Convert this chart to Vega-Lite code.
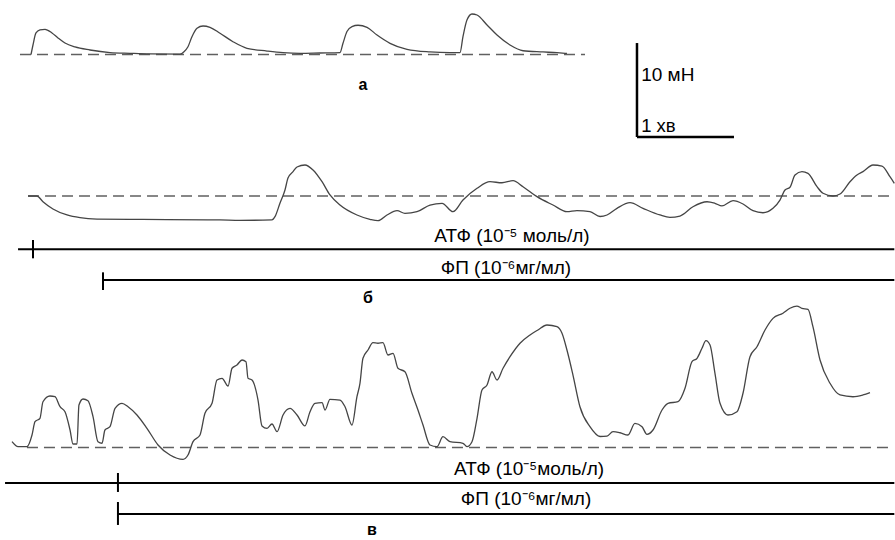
{
  "$schema": "https://vega.github.io/schema/vega-lite/v6.json",
  "autosize": {"type": "pad"},
  "padding": 0,
  "spacing": 0,
  "bounds": "flush",
  "background": "white",
  "config": {
    "view": {"stroke": null},
    "axis": {"disable": true},
    "font": "Liberation Sans",
    "text": {"font": "Liberation Sans"}
  },
  "datasets": {
    "a": [
      {"t": 0.320, "f": 0}, {"t": 0.340, "f": 1.01}, {"t": 0.371, "f": 2.29}, {"t": 0.412, "f": 2.61},
      {"t": 0.464, "f": 2.68}, {"t": 0.536, "f": 2.29}, {"t": 0.598, "f": 1.76}, {"t": 0.670, "f": 1.22},
      {"t": 0.773, "f": 0.80}, {"t": 0.928, "f": 0.48}, {"t": 1.134, "f": 0.21}, {"t": 1.340, "f": 0.13},
      {"t": 1.546, "f": 0.07}, {"t": 1.856, "f": 0.05}, {"t": 1.897, "f": 0.30}, {"t": 1.938, "f": 0.83},
      {"t": 1.979, "f": 1.89}, {"t": 2.031, "f": 2.79}, {"t": 2.093, "f": 3.03}, {"t": 2.165, "f": 2.89},
      {"t": 2.268, "f": 2.26}, {"t": 2.402, "f": 1.36}, {"t": 2.546, "f": 0.66}, {"t": 2.753, "f": 0.37},
      {"t": 2.918, "f": 0.19}, {"t": 3.093, "f": 0.11}, {"t": 3.299, "f": 0.16}, {"t": 3.505, "f": 0.21},
      {"t": 3.536, "f": 1.19}, {"t": 3.577, "f": 2.44}, {"t": 3.629, "f": 2.97}, {"t": 3.691, "f": 3.11},
      {"t": 3.784, "f": 2.89}, {"t": 3.887, "f": 2.07}, {"t": 4.021, "f": 1.19}, {"t": 4.196, "f": 0.55},
      {"t": 4.433, "f": 0.27}, {"t": 4.639, "f": 0.19}, {"t": 4.742, "f": 0.19}, {"t": 4.773, "f": 1.89},
      {"t": 4.814, "f": 3.67}, {"t": 4.866, "f": 4.31}, {"t": 4.918, "f": 4.20}, {"t": 5.021, "f": 3.14},
      {"t": 5.124, "f": 2.07}, {"t": 5.258, "f": 1.01}, {"t": 5.392, "f": 0.40}, {"t": 5.598, "f": 0.27},
      {"t": 5.742, "f": 0.19}, {"t": 5.845, "f": 0.11}
    ],
    "b": [
      {"t": 0.289, "f": 0}, {"t": 0.381, "f": 0}, {"t": 0.443, "f": -0.61}, {"t": 0.546, "f": -1.38},
      {"t": 0.691, "f": -2.02}, {"t": 0.825, "f": -2.31}, {"t": 1.000, "f": -2.45}, {"t": 1.371, "f": -2.48},
      {"t": 1.722, "f": -2.52}, {"t": 2.268, "f": -2.55}, {"t": 2.474, "f": -2.59}, {"t": 2.804, "f": -2.55},
      {"t": 2.835, "f": -2.20}, {"t": 2.887, "f": -0.74}, {"t": 2.938, "f": 0.64}, {"t": 2.969, "f": 1.91},
      {"t": 3.021, "f": 2.59}, {"t": 3.062, "f": 3.09}, {"t": 3.144, "f": 3.30}, {"t": 3.227, "f": 2.77},
      {"t": 3.320, "f": 1.52}, {"t": 3.402, "f": 0.11}, {"t": 3.505, "f": -0.96}, {"t": 3.680, "f": -2.02},
      {"t": 3.814, "f": -2.48}, {"t": 3.897, "f": -2.63}, {"t": 3.990, "f": -2.02}, {"t": 4.093, "f": -1.56},
      {"t": 4.175, "f": -1.84}, {"t": 4.299, "f": -1.67}, {"t": 4.433, "f": -0.96}, {"t": 4.557, "f": -0.78},
      {"t": 4.670, "f": -1.67}, {"t": 4.773, "f": -0.43}, {"t": 4.918, "f": 0.82}, {"t": 5.052, "f": 1.52},
      {"t": 5.175, "f": 1.41}, {"t": 5.289, "f": 1.63}, {"t": 5.392, "f": 0.99}, {"t": 5.536, "f": -0.07},
      {"t": 5.701, "f": -0.96}, {"t": 5.845, "f": -1.67}, {"t": 5.948, "f": -1.56}, {"t": 6.082, "f": -1.67},
      {"t": 6.186, "f": -2.18}, {"t": 6.258, "f": -2.02}, {"t": 6.361, "f": -1.31}, {"t": 6.495, "f": -0.71},
      {"t": 6.629, "f": -1.31}, {"t": 6.804, "f": -2.02}, {"t": 6.907, "f": -2.27}, {"t": 7.010, "f": -2.13},
      {"t": 7.144, "f": -1.14}, {"t": 7.289, "f": -0.61}, {"t": 7.371, "f": -0.78}, {"t": 7.443, "f": -1.06},
      {"t": 7.557, "f": -0.50}, {"t": 7.660, "f": -0.85}, {"t": 7.763, "f": -1.56}, {"t": 7.866, "f": -1.78},
      {"t": 7.969, "f": -1.31}, {"t": 8.041, "f": -0.43}, {"t": 8.093, "f": 0.64}, {"t": 8.144, "f": 0.93},
      {"t": 8.196, "f": 2.23}, {"t": 8.268, "f": 2.59}, {"t": 8.330, "f": 2.41}, {"t": 8.423, "f": 0.99},
      {"t": 8.485, "f": 0.29}, {"t": 8.588, "f": 0}, {"t": 8.660, "f": 0.21}, {"t": 8.763, "f": 1.52},
      {"t": 8.835, "f": 2.23}, {"t": 8.897, "f": 2.59}, {"t": 9.000, "f": 3.30}, {"t": 9.093, "f": 3.19},
      {"t": 9.175, "f": 2.05}, {"t": 9.220, "f": 1.35}
    ],
    "c": [
      {"t": 0.124, "f": 0.62}, {"t": 0.186, "f": 0.09}, {"t": 0.278, "f": 0.09}, {"t": 0.330, "f": 1.33},
      {"t": 0.361, "f": 2.74}, {"t": 0.412, "f": 3.11}, {"t": 0.443, "f": 4.87}, {"t": 0.515, "f": 5.48},
      {"t": 0.567, "f": 5.40}, {"t": 0.619, "f": 4.34}, {"t": 0.670, "f": 3.81}, {"t": 0.722, "f": 1.86},
      {"t": 0.753, "f": 0.37}, {"t": 0.794, "f": 0.37}, {"t": 0.814, "f": 4.52}, {"t": 0.856, "f": 5.16},
      {"t": 0.907, "f": 4.98}, {"t": 0.959, "f": 3.28}, {"t": 1.010, "f": 0.62}, {"t": 1.052, "f": 0.45},
      {"t": 1.082, "f": 1.86}, {"t": 1.134, "f": 2.21}, {"t": 1.186, "f": 4.17}, {"t": 1.258, "f": 4.70},
      {"t": 1.320, "f": 4.34}, {"t": 1.412, "f": 3.46}, {"t": 1.515, "f": 2.04}, {"t": 1.629, "f": 0.27},
      {"t": 1.753, "f": -0.80}, {"t": 1.887, "f": -1.26}, {"t": 1.938, "f": -0.80}, {"t": 1.990, "f": 0.62},
      {"t": 2.062, "f": 1.33}, {"t": 2.113, "f": 3.64}, {"t": 2.186, "f": 4.70}, {"t": 2.237, "f": 7.18},
      {"t": 2.289, "f": 7.36}, {"t": 2.351, "f": 6.54}, {"t": 2.392, "f": 8.43}, {"t": 2.443, "f": 8.78},
      {"t": 2.495, "f": 9.31}, {"t": 2.536, "f": 9.13}, {"t": 2.557, "f": 7.36}, {"t": 2.598, "f": 7.18},
      {"t": 2.660, "f": 5.05}, {"t": 2.701, "f": 2.29}, {"t": 2.753, "f": 2.04}, {"t": 2.804, "f": 2.50},
      {"t": 2.856, "f": 1.68}, {"t": 2.918, "f": 3.46}, {"t": 2.990, "f": 4.17}, {"t": 3.062, "f": 3.46},
      {"t": 3.144, "f": 2.29}, {"t": 3.196, "f": 3.81}, {"t": 3.247, "f": 4.70}, {"t": 3.320, "f": 4.77},
      {"t": 3.351, "f": 3.99}, {"t": 3.402, "f": 5.13}, {"t": 3.505, "f": 5.05}, {"t": 3.557, "f": 4.34},
      {"t": 3.629, "f": 2.39}, {"t": 3.680, "f": 5.40}, {"t": 3.711, "f": 6.83}, {"t": 3.742, "f": 9.49},
      {"t": 3.794, "f": 10.37}, {"t": 3.845, "f": 11.15}, {"t": 3.897, "f": 11.09}, {"t": 3.948, "f": 11.15},
      {"t": 4.000, "f": 9.84}, {"t": 4.052, "f": 10.02}, {"t": 4.103, "f": 8.43}, {"t": 4.175, "f": 8.06},
      {"t": 4.247, "f": 5.77}, {"t": 4.309, "f": 3.99}, {"t": 4.361, "f": 2.39}, {"t": 4.433, "f": 0.27},
      {"t": 4.505, "f": 0.09}, {"t": 4.567, "f": 1.15}, {"t": 4.639, "f": 0.62}, {"t": 4.773, "f": 0.45},
      {"t": 4.814, "f": 0.09}, {"t": 4.866, "f": 0.62}, {"t": 4.918, "f": 3.11}, {"t": 4.969, "f": 6.12},
      {"t": 5.021, "f": 6.65}, {"t": 5.072, "f": 8.06}, {"t": 5.124, "f": 7.18}, {"t": 5.186, "f": 8.43},
      {"t": 5.258, "f": 9.66}, {"t": 5.361, "f": 11.09}, {"t": 5.464, "f": 11.97}, {"t": 5.546, "f": 12.50},
      {"t": 5.639, "f": 13.03}, {"t": 5.742, "f": 12.85}, {"t": 5.794, "f": 12.15}, {"t": 5.845, "f": 10.37},
      {"t": 5.907, "f": 7.71}, {"t": 5.979, "f": 4.34}, {"t": 6.082, "f": 2.21}, {"t": 6.186, "f": 1.17},
      {"t": 6.258, "f": 1.22}, {"t": 6.320, "f": 1.68}, {"t": 6.392, "f": 1.57}, {"t": 6.474, "f": 1.33},
      {"t": 6.546, "f": 2.57}, {"t": 6.619, "f": 2.21}, {"t": 6.670, "f": 1.40}, {"t": 6.732, "f": 1.86},
      {"t": 6.825, "f": 3.99}, {"t": 6.887, "f": 4.70}, {"t": 6.990, "f": 4.87}, {"t": 7.062, "f": 6.30},
      {"t": 7.134, "f": 9.13}, {"t": 7.186, "f": 9.49}, {"t": 7.237, "f": 10.55}, {"t": 7.278, "f": 11.36},
      {"t": 7.320, "f": 10.90}, {"t": 7.371, "f": 7.89}, {"t": 7.423, "f": 4.70}, {"t": 7.505, "f": 3.46},
      {"t": 7.598, "f": 3.81}, {"t": 7.660, "f": 5.77}, {"t": 7.732, "f": 9.66}, {"t": 7.804, "f": 10.72},
      {"t": 7.887, "f": 12.50}, {"t": 7.969, "f": 13.74}, {"t": 8.072, "f": 14.28}, {"t": 8.144, "f": 14.81},
      {"t": 8.216, "f": 15.05}, {"t": 8.268, "f": 14.81}, {"t": 8.330, "f": 14.70}, {"t": 8.381, "f": 12.85},
      {"t": 8.454, "f": 9.31}, {"t": 8.557, "f": 6.83}, {"t": 8.660, "f": 5.59}, {"t": 8.794, "f": 5.40},
      {"t": 8.897, "f": 5.59}, {"t": 8.969, "f": 5.83}
    ],
    "treat": [
      {"panel": "б", "agent": "АТФ", "label": "АТФ (10⁻⁵ моль/л)", "from": 0.186, "start": 0.340, "end": 9.220},
      {"panel": "б", "agent": "ФП", "label": "ФП (10⁻⁶мг/мл)", "from": 1.062, "start": 1.062, "end": 9.220},
      {"panel": "в", "agent": "АТФ", "label": "АТФ (10⁻⁵моль/л)", "from": 0.052, "start": 1.216, "end": 9.220},
      {"panel": "в", "agent": "ФП", "label": "ФП (10⁻⁶мг/мл)", "from": 1.216, "start": 1.216, "end": 9.220}
    ]
  },
  "vconcat": [
    {
      "width": 895,
      "height": 145,
      "layer": [
        {
          "data": {"values": [{}]},
          "mark": {"type": "rule", "color": "#606060", "strokeWidth": 1.5, "strokeDash": [11, 6]},
          "encoding": {
            "x": {"datum": 0.206, "type": "quantitative", "scale": {"domain": [0, 9.227], "nice": false, "zero": false}},
            "x2": {"datum": 6.031},
            "y": {"datum": 0, "type": "quantitative", "scale": {"domain": [-9.628, 5.798], "nice": false, "zero": false}}
          }
        },
        {
          "data": {"name": "a"},
          "mark": {"type": "line", "color": "#454545", "strokeWidth": 1.3, "interpolate": "monotone"},
          "encoding": {
            "x": {"field": "t", "type": "quantitative"},
            "y": {"field": "f", "type": "quantitative"}
          }
        },
        {
          "data": {"values": [{}]},
          "mark": {"type": "rule", "color": "black", "strokeWidth": 2.5},
          "encoding": {"x": {"datum": 6.567}, "y": {"datum": -8.78}, "y2": {"datum": 1.22}}
        },
        {
          "data": {"values": [{}]},
          "mark": {"type": "rule", "color": "black", "strokeWidth": 2.5},
          "encoding": {"x": {"datum": 6.567}, "x2": {"datum": 7.567}, "y": {"datum": -8.78}}
        },
        {
          "data": {"values": [{}]},
          "mark": {"type": "text", "fontSize": 19, "align": "left", "baseline": "middle", "color": "black"},
          "encoding": {"x": {"datum": 6.61}, "y": {"datum": -2.18}, "text": {"value": "10 мН"}}
        },
        {
          "data": {"values": [{}]},
          "mark": {"type": "text", "fontSize": 18.5, "align": "left", "baseline": "middle", "color": "black"},
          "encoding": {"x": {"datum": 6.61}, "y": {"datum": -7.61}, "text": {"value": "1 хв"}}
        },
        {
          "data": {"values": [{}]},
          "mark": {"type": "text", "fontSize": 16, "align": "center", "baseline": "middle", "color": "black", "fontWeight": "bold"},
          "encoding": {"x": {"datum": 3.742}, "y": {"datum": -3.24}, "text": {"value": "а"}}
        }
      ]
    },
    {
      "width": 895,
      "height": 155,
      "layer": [
        {
          "data": {"values": [{}]},
          "mark": {"type": "rule", "color": "#606060", "strokeWidth": 1.5, "strokeDash": [11, 6]},
          "encoding": {
            "x": {"datum": 0.289, "type": "quantitative", "scale": {"domain": [0, 9.227], "nice": false, "zero": false}},
            "x2": {"datum": 9.220},
            "y": {"datum": 0, "type": "quantitative", "scale": {"domain": [-11.064, 5.426], "nice": false, "zero": false}}
          }
        },
        {
          "data": {"name": "b"},
          "mark": {"type": "line", "color": "#454545", "strokeWidth": 1.3, "interpolate": "monotone"},
          "encoding": {
            "x": {"field": "t", "type": "quantitative"},
            "y": {"field": "f", "type": "quantitative"}
          }
        },
        {
          "data": {"name": "treat"},
          "transform": [{"filter": "datum.panel === 'б' && datum.agent === 'АТФ'"}],
          "layer": [
            {"mark": {"type": "rule", "color": "black", "strokeWidth": 2},
             "encoding": {"x": {"field": "from", "type": "quantitative"}, "x2": {"field": "end"}, "y": {"datum": -5.67}}},
            {"mark": {"type": "rule", "color": "black", "strokeWidth": 2},
             "encoding": {"x": {"field": "start", "type": "quantitative"}, "y": {"datum": -4.68}, "y2": {"datum": -6.63}}},
            {"mark": {"type": "text", "fontSize": 19, "align": "center", "baseline": "middle", "color": "black"},
             "encoding": {"x": {"datum": 5.278}, "y": {"datum": -4.26}, "text": {"field": "label"}}}
          ]
        },
        {
          "data": {"name": "treat"},
          "transform": [{"filter": "datum.panel === 'б' && datum.agent === 'ФП'"}],
          "layer": [
            {"mark": {"type": "rule", "color": "black", "strokeWidth": 2},
             "encoding": {"x": {"field": "from", "type": "quantitative"}, "x2": {"field": "end"}, "y": {"datum": -8.94}}},
            {"mark": {"type": "rule", "color": "black", "strokeWidth": 2},
             "encoding": {"x": {"field": "start", "type": "quantitative"}, "y": {"datum": -8.12}, "y2": {"datum": -10.0}}},
            {"mark": {"type": "text", "fontSize": 19, "align": "center", "baseline": "middle", "color": "black"},
             "encoding": {"x": {"datum": 5.216}, "y": {"datum": -7.66}, "text": {"field": "label"}}}
          ]
        },
        {
          "data": {"values": [{}]},
          "mark": {"type": "text", "fontSize": 16, "align": "center", "baseline": "middle", "color": "black", "fontWeight": "bold"},
          "encoding": {"x": {"datum": 3.794}, "y": {"datum": -10.9}, "text": {"value": "б"}}
        }
      ]
    },
    {
      "width": 895,
      "height": 240,
      "layer": [
        {
          "data": {"values": [{}]},
          "mark": {"type": "rule", "color": "#606060", "strokeWidth": 1.5, "strokeDash": [11, 6]},
          "encoding": {
            "x": {"datum": 0.278, "type": "quantitative", "scale": {"domain": [0, 9.227], "nice": false, "zero": false}},
            "x2": {"datum": 9.206},
            "y": {"datum": 0, "type": "quantitative", "scale": {"domain": [-9.840, 15.691], "nice": false, "zero": false}}
          }
        },
        {
          "data": {"name": "c"},
          "mark": {"type": "line", "color": "#454545", "strokeWidth": 1.3, "interpolate": "monotone"},
          "encoding": {
            "x": {"field": "t", "type": "quantitative"},
            "y": {"field": "f", "type": "quantitative"}
          }
        },
        {
          "data": {"name": "treat"},
          "transform": [{"filter": "datum.panel === 'в' && datum.agent === 'АТФ'"}],
          "layer": [
            {"mark": {"type": "rule", "color": "black", "strokeWidth": 2},
             "encoding": {"x": {"field": "from", "type": "quantitative"}, "x2": {"field": "end"}, "y": {"datum": -3.78}}},
            {"mark": {"type": "rule", "color": "black", "strokeWidth": 2},
             "encoding": {"x": {"field": "start", "type": "quantitative"}, "y": {"datum": -2.71}, "y2": {"datum": -4.73}}},
            {"mark": {"type": "text", "fontSize": 19, "align": "center", "baseline": "middle", "color": "black"},
             "encoding": {"x": {"datum": 5.454}, "y": {"datum": -2.29}, "text": {"field": "label"}}}
          ]
        },
        {
          "data": {"name": "treat"},
          "transform": [{"filter": "datum.panel === 'в' && datum.agent === 'ФП'"}],
          "layer": [
            {"mark": {"type": "rule", "color": "black", "strokeWidth": 2},
             "encoding": {"x": {"field": "from", "type": "quantitative"}, "x2": {"field": "end"}, "y": {"datum": -7.07}}},
            {"mark": {"type": "rule", "color": "black", "strokeWidth": 2},
             "encoding": {"x": {"field": "start", "type": "quantitative"}, "y": {"datum": -5.80}, "y2": {"datum": -8.24}}},
            {"mark": {"type": "text", "fontSize": 19, "align": "center", "baseline": "middle", "color": "black"},
             "encoding": {"x": {"datum": 5.423}, "y": {"datum": -5.48}, "text": {"field": "label"}}}
          ]
        },
        {
          "data": {"values": [{}]},
          "mark": {"type": "text", "fontSize": 16, "align": "center", "baseline": "middle", "color": "black", "fontWeight": "bold"},
          "encoding": {"x": {"datum": 3.835}, "y": {"datum": -8.78}, "text": {"value": "в"}}
        }
      ]
    }
  ]
}
